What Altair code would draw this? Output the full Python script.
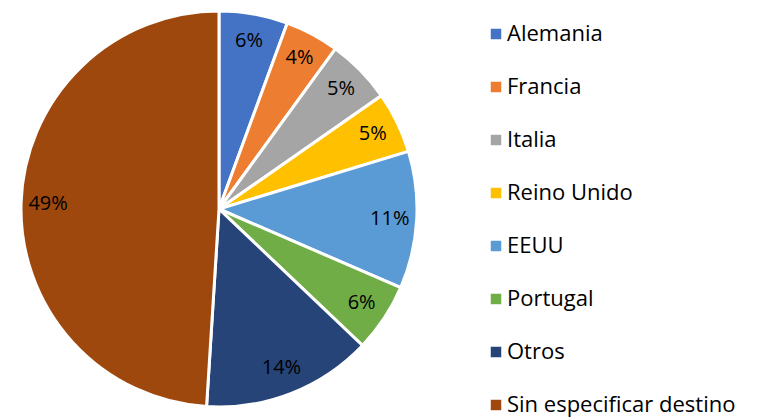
import altair as alt
import pandas as pd

categories = ["Alemania", "Francia", "Italia", "Reino Unido", "EEUU", "Portugal", "Otros", "Sin especificar destino"]
values = [5.6, 4.4, 5.3, 5.0, 11.2, 5.6, 13.9, 49.0]
colors = ["#4472C4", "#ED7D31", "#A5A5A5", "#FFC000", "#5B9BD5", "#70AD47", "#264478", "#9E480E"]

df = pd.DataFrame({
    "cat": categories,
    "val": values,
    "idx": list(range(len(categories))),
})
df["label"] = df["val"].round().astype(int).astype(str) + "%"

base = alt.Chart(df).encode(
    theta=alt.Theta("val:Q", stack=True),
    order=alt.Order("idx:Q", sort="ascending"),
    x=alt.value(219),
    y=alt.value(209),
)

arcs = base.mark_arc(outerRadius=198, stroke="white", strokeWidth=3).encode(
    color=alt.Color(
        "cat:N",
        scale=alt.Scale(domain=categories, range=colors),
        sort=categories,
        legend=alt.Legend(
            title=None,
            orient="none",
            legendX=485,
            legendY=23,
            symbolType="square",
            symbolSize=110,
            symbolStrokeWidth=0,
            labelFontSize=22,
            labelFont="Open Sans",
            labelColor="#000000",
            labelLimit=400,
            rowPadding=31,
            labelOffset=0,
        ),
    )
)

text = base.mark_text(radius=171, fontSize=20, font="Open Sans", color="#000000").encode(
    text="label:N"
)

chart = (arcs + text).properties(
    width=769, height=418, autosize=alt.AutoSizeParams(type="none"), padding=0
).configure_view(stroke=None)

chart.save("out.html", embed_options={"renderer": "svg", "actions": False})
